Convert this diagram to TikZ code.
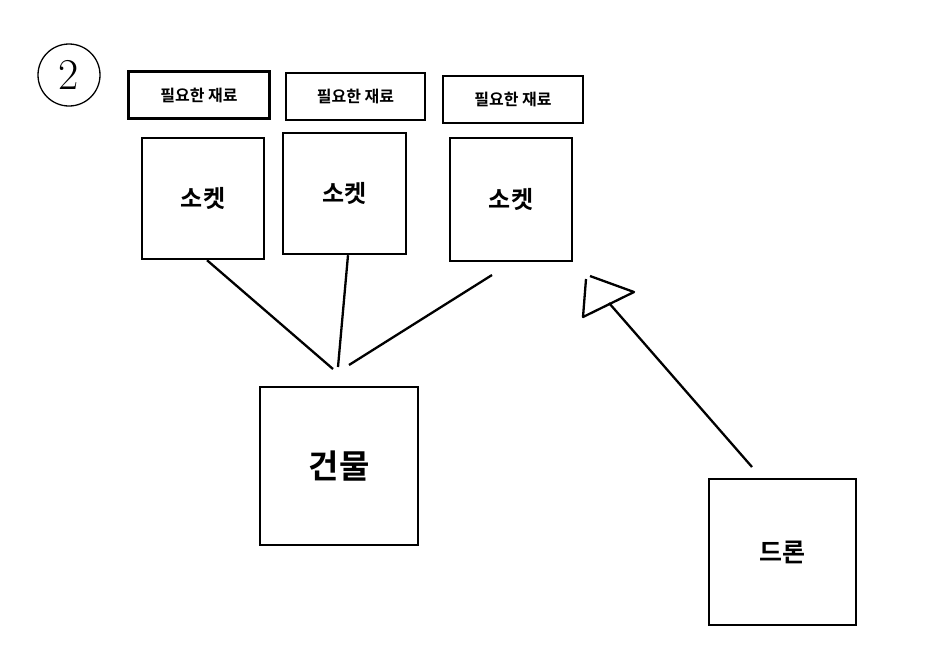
\documentclass[tikz,border=0pt]{standalone}
\usepackage{fontspec}
\newfontfamily\kr{Noto Sans CJK KR}[BoldFont={Noto Sans CJK KR Bold}]
\begin{document}
\begin{tikzpicture}[x=1pt,y=-1pt,
  box/.style={draw,line width=2.4pt,inner sep=0pt,font=\kr\bfseries},
  small/.style={box,font=\kr\bfseries\fontsize{16}{16}\selectfont},
  conn/.style={line width=2.3pt}]
\useasboundingbox (0,0) rectangle (949,670);
% circled 2
\node[draw,circle,line width=1.3pt,minimum size=62pt,inner sep=0pt,font=\fontsize{44}{44}\selectfont] (num) at (69,75) {2};
% small boxes
\node[small,minimum width=141pt,minimum height=47pt] (m1) at (199,95) {필요한 재료};
\node[small,minimum width=139pt,minimum height=47pt] (m2) at (355.5,96.5) {필요한 재료};
\node[small,minimum width=140pt,minimum height=47pt] (m3) at (513,99.5) {필요한 재료};
% sockets
\node[box,minimum width=122pt,minimum height=121pt,font=\kr\bfseries\fontsize{24}{24}\selectfont] (s1) at (203,198.5) {소켓};
\node[box,minimum width=123pt,minimum height=121pt,font=\kr\bfseries\fontsize{24}{24}\selectfont] (s2) at (344.5,193.5) {소켓};
\node[box,minimum width=122pt,minimum height=123pt,font=\kr\bfseries\fontsize{24}{24}\selectfont] (s3) at (511,199.5) {소켓};
% building
\node[box,minimum width=158pt,minimum height=158pt,font=\kr\bfseries\fontsize{33}{33}\selectfont] (b) at (339,466) {건물};
% drone
\node[box,minimum width=147pt,minimum height=146pt,font=\kr\bfseries\fontsize{25}{25}\selectfont] (d) at (782.5,552) {드론};
% connector ends
\coordinate (e1) at (333,369);
\coordinate (e2) at (338,367);
\coordinate (e3) at (349,365);
\coordinate (t3) at (492,275);
\coordinate (a0) at (752,467);
\coordinate (a1) at (609,303);
\draw[conn] (s1.south -| 207,0) -- (e1);
\draw[conn] (s2.south -| 348,0) -- (e2);
\draw[conn] (t3) -- (e3);
\draw[conn] (a0) -- (a1);
\draw[conn,line join=round] (586,279) -- (583,317) -- (634,292) -- (590,276);
\end{tikzpicture}
\end{document}
